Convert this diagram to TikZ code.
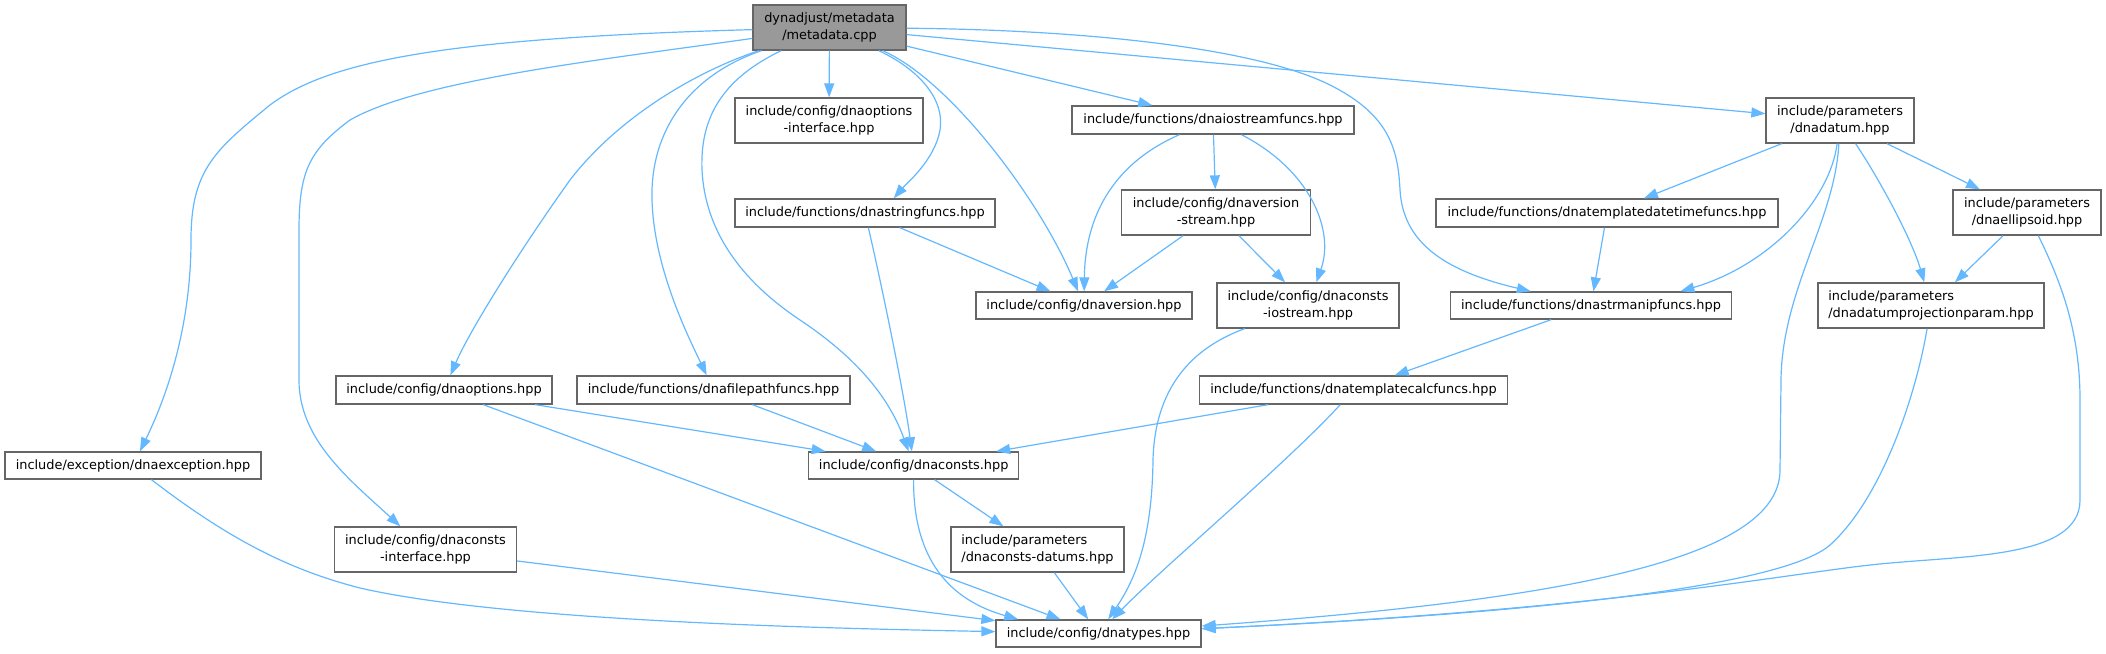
\documentclass[tikz,border=0pt]{standalone}
\usepackage{fontspec}
\setmainfont{DejaVu Sans}
\usetikzlibrary{arrows.meta}
\definecolor{edgeblue}{HTML}{63B8FF}
\definecolor{bordgray}{HTML}{666666}
\definecolor{rootgray}{HTML}{999999}
\begin{document}
\begin{tikzpicture}[x=1pt,y=-1pt,
  box/.style={draw=bordgray, line width=1.3pt, fill=white, inner sep=0pt,
    font=\fontsize{12.9}{17}\selectfont, align=center},
  lbox/.style={box, align=left},
  e/.style={draw=edgeblue, line width=1.2pt, -{Triangle[length=14pt,width=10pt]}},
]
\useasboundingbox (0,0) rectangle (2106,653);
% nodes
\node[box, fill=rootgray, minimum width=153pt, minimum height=45pt] (root) at (829.5,27.5) {dynadjust/metadata\\/metadata.cpp};
\node[box, minimum width=188pt, minimum height=45pt] (optif) at (829,120.5) {include/config/dnaoptions\\-interface.hpp};
\node[box, minimum width=260pt, minimum height=28pt] (strf) at (865,213) {include/functions/dnastringfuncs.hpp};
\node[box, minimum width=282pt, minimum height=28pt] (ios) at (1213,120) {include/functions/dnaiostreamfuncs.hpp};
\node[box, minimum width=148pt, minimum height=45pt] (datum) at (1840,120.5) {include/parameters\\/dnadatum.hpp};
\node[box, minimum width=189pt, minimum height=45pt] (vstream) at (1216,212.5) {include/config/dnaversion\\-stream.hpp};
\node[box, minimum width=342pt, minimum height=28pt] (dtf) at (1607,213) {include/functions/dnatemplatedatetimefuncs.hpp};
\node[box, minimum width=148pt, minimum height=45pt] (ell) at (2027,212.5) {include/parameters\\/dnaellipsoid.hpp};
\node[box, minimum width=216pt, minimum height=27pt] (ver) at (1084,305.5) {include/config/dnaversion.hpp};
\node[box, minimum width=182pt, minimum height=45pt] (cio) at (1308,305.5) {include/config/dnaconsts\\-iostream.hpp};
\node[box, minimum width=281pt, minimum height=27pt] (smf) at (1591,305.5) {include/functions/dnastrmanipfuncs.hpp};
\node[lbox, minimum width=226pt, minimum height=45pt] (dpp) at (1931,305.5) {include/parameters\\/dnadatumprojectionparam.hpp};
\node[box, minimum width=216pt, minimum height=28pt] (opt) at (444,390) {include/config/dnaoptions.hpp};
\node[box, minimum width=273pt, minimum height=28pt] (fpf) at (713.5,390) {include/functions/dnafilepathfuncs.hpp};
\node[box, minimum width=308pt, minimum height=28pt] (tcf) at (1353.5,390) {include/functions/dnatemplatecalcfuncs.hpp};
\node[box, minimum width=256pt, minimum height=27pt] (exc) at (133,465.5) {include/exception/dnaexception.hpp};
\node[box, minimum width=210pt, minimum height=27pt] (cons) at (913.7,465.5) {include/config/dnaconsts.hpp};
\node[box, minimum width=182pt, minimum height=45pt] (cif) at (425.5,549.5) {include/config/dnaconsts\\-interface.hpp};
\node[lbox, minimum width=173pt, minimum height=45pt] (cdat) at (1037.5,549.5) {include/parameters\\/dnaconsts-datums.hpp};
\node[box, minimum width=205pt, minimum height=27pt] (types) at (1098.5,633.5) {include/config/dnatypes.hpp};
% edges from root
\draw[e] (root) .. controls (450,38) and (330,60) .. (270,105) .. controls (215,150) and (191,170) .. (191,240) .. controls (191,330) and (165,400) .. (exc);
\draw[e] (root) .. controls (600,60) and (420,80) .. (350,120) .. controls (310,150) and (299,170) .. (299,230) -- (299,380) .. controls (299,440) and (350,480) .. (cif);
\draw[e] (root) .. controls (700,70) and (620,115) .. (570,180) .. controls (520,250) and (470,330) .. (opt);
\draw[e] (root) .. controls (690,75) and (650,130) .. (652,200) .. controls (654,270) and (690,340) .. (fpf);
\draw[e] (root) .. controls (720,80) and (700,120) .. (702,170) .. controls (705,230) and (740,280) .. (800,320) .. controls (860,360) and (890,400) .. (cons);
\draw[e] (root) -- (optif);
\draw[e] (root) .. controls (920,70) and (945,100) .. (940,130) .. controls (935,160) and (905,185) .. (strf.27);
\draw[e] (root) .. controls (950,80) and (1040,200) .. (ver);
\draw[e] (root) -- (ios);
\draw[e] (root) .. controls (1100,30) and (1260,50) .. (1330,85) .. controls (1390,115) and (1398,150) .. (1400,190) .. controls (1403,240) and (1440,270) .. (smf);
\draw[e] (root) -- (datum);
% dnaiostreamfuncs
\draw[e] (ios) .. controls (1110,165) and (1085,220) .. (ver);
\draw[e] (ios) -- (vstream);
\draw[e] (ios) .. controls (1310,170) and (1335,230) .. (cio);
% dnaversion-stream
\draw[e] (vstream) -- (ver);
\draw[e] (vstream) -- (cio);
% dnastringfuncs
\draw[e] (strf) -- (ver);
\draw[e] (strf) .. controls (885,300) and (905,400) .. (cons);
% dnadatum
\draw[e] (datum) -- (dtf);
\draw[e] (datum) .. controls (1830,200) and (1770,265) .. (smf.9);
\draw[e] (datum) .. controls (1835,220) and (1782,290) .. (1781,380) -- (1780,470) .. controls (1780,560) and (1560,600) .. (types);
\draw[e] (datum) .. controls (1880,180) and (1912,240) .. (dpp);
\draw[e] (datum) -- (ell);
% others
\draw[e] (dtf) -- (smf);
\draw[e] (ell) -- (dpp);
\draw[e] (ell) .. controls (2060,280) and (2080,330) .. (2080,400) -- (2080,500) .. controls (2080,560) and (1960,555) .. (1870,565) .. controls (1780,575) and (1600,610) .. (types);
\draw[e] (dpp) .. controls (1915,400) and (1880,500) .. (1830,545) .. controls (1790,580) and (1600,610) .. (types);
\draw[e] (smf) -- (tcf);
\draw[e] (cio) .. controls (1200,345) and (1155,380) .. (1153,460) .. controls (1152,540) and (1135,580) .. (types);
\draw[e] (tcf) -- (cons);
\draw[e] (tcf) .. controls (1290,460) and (1160,570) .. (types);
\draw[e] (opt) -- (cons);
\draw[e] (opt) -- (types);
\draw[e] (fpf) -- (cons);
\draw[e] (exc) .. controls (230,540) and (290,570) .. (360,588) .. controls (500,620) and (800,628) .. (types);
\draw[e] (cif) -- (types);
\draw[e] (cons) -- (cdat);
\draw[e] (cons) .. controls (913,560) and (950,600) .. (types.170);
\draw[e] (cdat) -- (types);
\end{tikzpicture}
\end{document}
